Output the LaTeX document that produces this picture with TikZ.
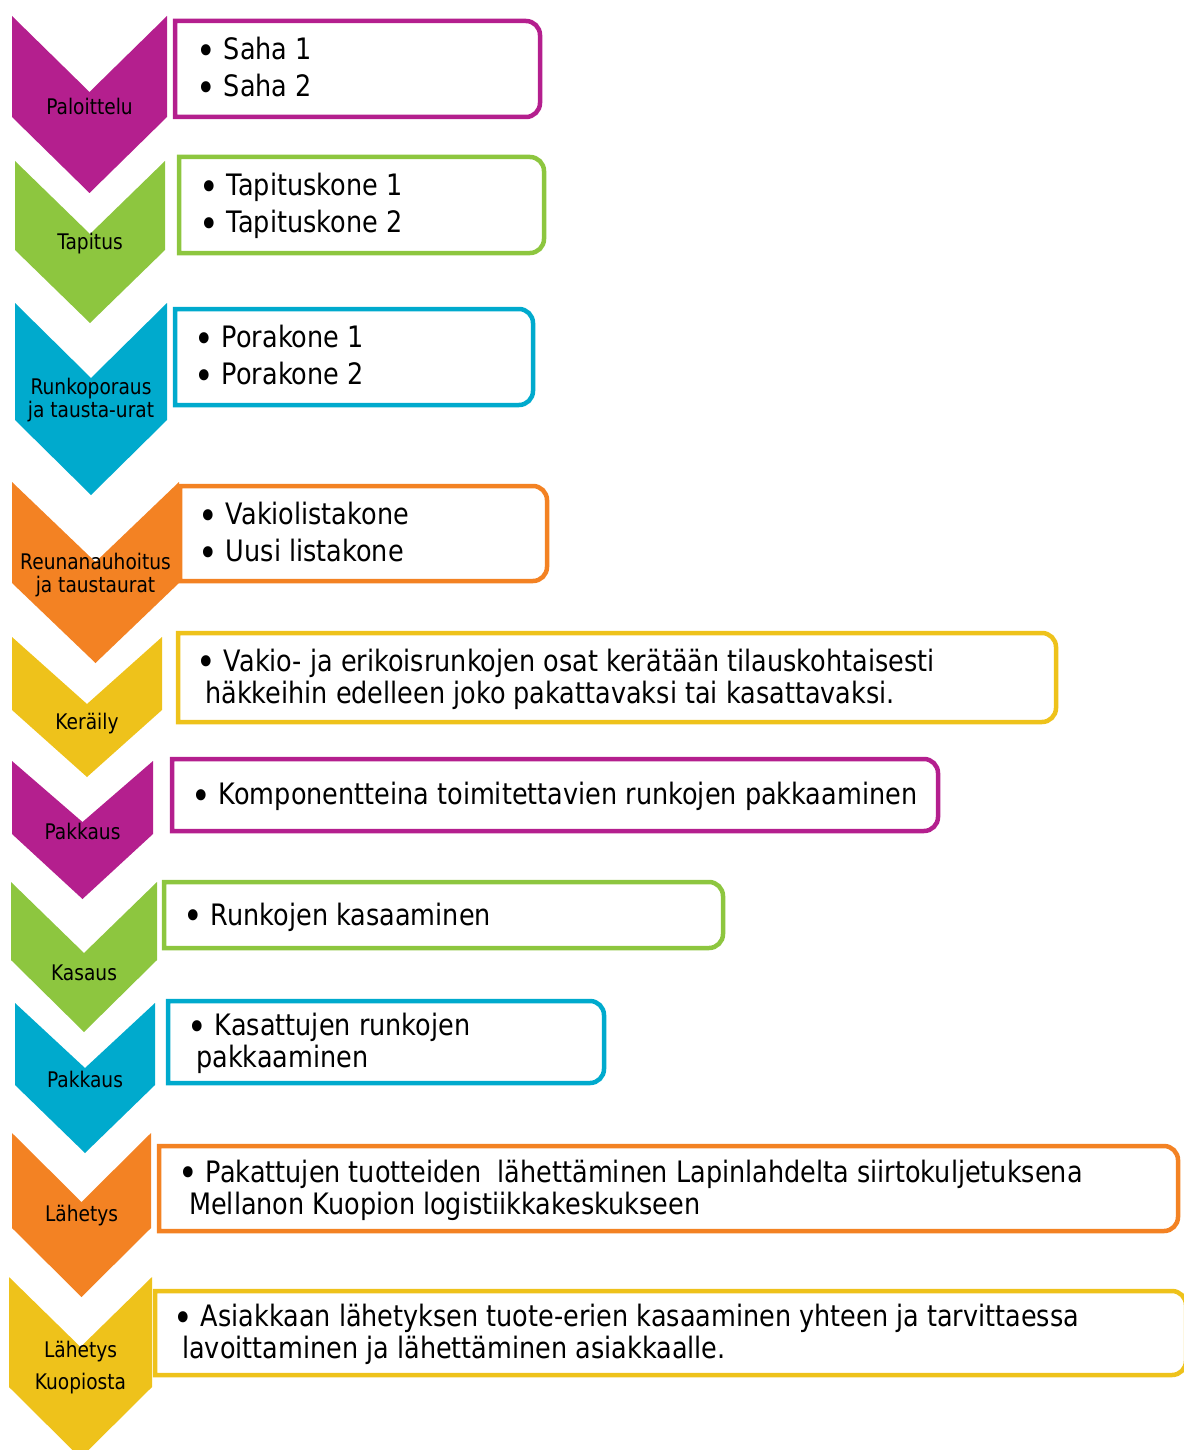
\documentclass[tikz,border=0pt]{standalone}
\usepackage{fontspec}
\setmainfont{DejaVu Sans}[FakeStretch=0.865]
\usepackage{graphicx}
\usepackage{tikz}
\usetikzlibrary{positioning}

\definecolor{chvmagenta}{RGB}{180,31,142}
\definecolor{chvgreen}{RGB}{141,198,63}
\definecolor{chvcyan}{RGB}{0,170,205}
\definecolor{chvorange}{RGB}{243,130,35}
\definecolor{chvyellow}{RGB}{238,194,27}

\newcommand{\itembullet}{\raisebox{-0.3ex}{\scalebox{1.3}{•}}}

\begin{document}
\begin{tikzpicture}[
  x=1pt, y=-1pt,
  chevlabel/.style={font=\fontsize{21.5}{23}\selectfont, align=center, inner sep=0pt},
  item/.style={font=\fontsize{29.5}{32}\selectfont, align=left, anchor=west, inner sep=0pt},
  listframe/.style={draw=#1, line width=4.5pt}
]
\useasboundingbox (0,0) rectangle (1183,1450);

% chevrons
\fill[chvmagenta] (12,16)   -- (89.5,92)   -- (167,16)   -- (167,117)  -- (89.5,193)  -- (12,117)  -- cycle;
\fill[chvgreen]   (15,161)  -- (90,234)    -- (165,161)  -- (165,250)  -- (90,323)    -- (15,250)  -- cycle;
\fill[chvcyan]    (15,303)  -- (91,378)    -- (167,303)  -- (167,420)  -- (91,495)    -- (15,420)  -- cycle;
\fill[chvorange]  (12,482)  -- (95.5,562)  -- (179,482)  -- (179,583)  -- (95.5,663)  -- (12,583)  -- cycle;
\fill[chvyellow]  (12,637)  -- (87,704)    -- (162,637)  -- (162,710)  -- (87,777)    -- (12,710)  -- cycle;
\fill[chvmagenta] (12,761)  -- (82.5,822)  -- (153,761)  -- (153,834)  -- (82.5,899)  -- (12,834)  -- cycle;
\fill[chvgreen]   (11,882)  -- (84,953)    -- (157,882)  -- (157,960)  -- (84,1032)   -- (11,960)  -- cycle;
\fill[chvcyan]    (15,1003) -- (85,1068)   -- (155,1003) -- (155,1085) -- (85,1153)   -- (15,1085) -- cycle;
\fill[chvorange]  (12,1133) -- (81.5,1202) -- (151,1133) -- (151,1228) -- (81.5,1297) -- (12,1228) -- cycle;
\fill[chvyellow]  (9,1277)  -- (80.5,1347) -- (152,1277) -- (152,1387) -- (80.5,1458) -- (9,1387)  -- cycle;

\node (paloittelu)     [chevlabel] at (89.5,106)  {Paloittelu};
\node (tapitus)        [chevlabel] at (90,244)    {Tapitus};
\node (runkoporaus)    [chevlabel] at (91,400)    {Runkoporaus\\ja tausta-urat};
\node (reunanauhoitus) [chevlabel] at (95.5,575)  {Reunanauhoitus\\ja taustaurat};
\node (keraily)        [chevlabel] at (87,724)    {Keräily};
\node (pakkaus)        [chevlabel] at (82.5,831)  {Pakkaus};
\node (kasaus)         [chevlabel] at (84,973)    {Kasaus};
\node (pakkaus2)       [chevlabel] at (85,1079)   {Pakkaus};
\node (lahetys)        [chevlabel] at (81.5,1216) {Lähetys};
\node (kuopio)         [chevlabel] at (80.5,1368) {Lähetys\\[9pt]Kuopiosta};

% frames, square on the left, rounded on the right
\draw[listframe=chvmagenta] (175,117)  -- (175,21)   [rounded corners=14pt] -- (540,21)   -- (540,117)  [sharp corners] -- cycle;
\draw[listframe=chvgreen]   (179,253)  -- (179,157)  [rounded corners=14pt] -- (544,157)  -- (544,253)  [sharp corners] -- cycle;
\draw[listframe=chvcyan]    (175,405)  -- (175,309)  [rounded corners=14pt] -- (533,309)  -- (533,405)  [sharp corners] -- cycle;
\draw[listframe=chvorange]  (180,581)  -- (180,486)  [rounded corners=14pt] -- (547,486)  -- (547,581)  [sharp corners] -- cycle;
\draw[listframe=chvyellow]  (178,722)  -- (178,633)  [rounded corners=14pt] -- (1056,633) -- (1056,722) [sharp corners] -- cycle;
\draw[listframe=chvmagenta] (172,831)  -- (172,759)  [rounded corners=14pt] -- (938,759)  -- (938,831)  [sharp corners] -- cycle;
\draw[listframe=chvgreen]   (164,948)  -- (164,882)  [rounded corners=14pt] -- (723,882)  -- (723,948)  [sharp corners] -- cycle;
\draw[listframe=chvcyan]    (168,1083) -- (168,1001) [rounded corners=14pt] -- (604,1001) -- (604,1083) [sharp corners] -- cycle;
\draw[listframe=chvorange]  (159,1231) -- (159,1146) [rounded corners=14pt] -- (1178,1146) -- (1178,1231) [sharp corners] -- cycle;
\draw[listframe=chvyellow]  (155,1375) -- (155,1291) [rounded corners=14pt] -- (1186,1291) -- (1186,1375) [sharp corners] -- cycle;

\node (sahat)   [item] at (196,69.5)   {\itembullet{} Saha 1\\[5pt]\itembullet{} Saha 2};
\node (tapit)   [item] at (199,206)    {\itembullet{} Tapituskone 1\\[5pt]\itembullet{} Tapituskone 2};
\node (porat)   [item] at (194,357.5)  {\itembullet{} Porakone 1\\[5pt]\itembullet{} Porakone 2};
\node (listat)  [item] at (198,534.5)  {\itembullet{} Vakiolistakone\\[5pt]\itembullet{} Uusi listakone};
\node (keruu)   [item] at (196,679)    {\itembullet{} Vakio- ja erikoisrunkojen osat kerätään tilauskohtaisesti\\\hspace*{9pt}häkkeihin edelleen joko pakattavaksi tai kasattavaksi.};
\node (komp)    [item] at (191,796.5)  {\itembullet{} Komponentteina toimitettavien runkojen pakkaaminen};
\node (kasat)   [item] at (183,917)    {\itembullet{} Runkojen kasaaminen};
\node (kpakk)   [item] at (187,1043.5) {\itembullet{} Kasattujen runkojen\\\hspace*{9pt}pakkaaminen};
\node (lahet)   [item] at (178,1190)   {\itembullet{} Pakattujen tuotteiden\ \ lähettäminen Lapinlahdelta siirtokuljetuksena\\\hspace*{11pt}Mellanon Kuopion logistiikkakeskukseen};
\node (asiakas) [item] at (173,1334.5) {\itembullet{} Asiakkaan lähetyksen tuote-erien kasaaminen yhteen ja tarvittaessa\\\hspace*{9pt}lavoittaminen ja lähettäminen asiakkaalle.};
\end{tikzpicture}
\end{document}
